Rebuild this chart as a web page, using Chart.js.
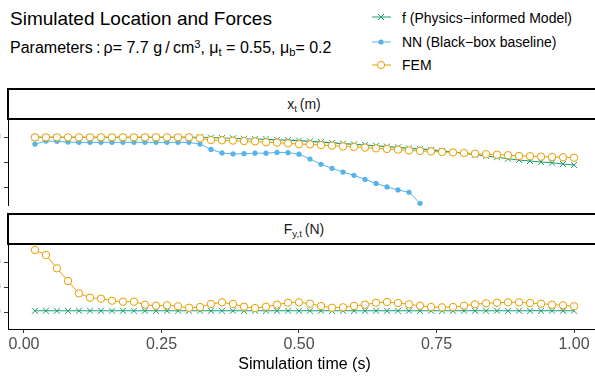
<!DOCTYPE html>
<html>
<head>
<meta charset="utf-8">
<script src="https://cdn.jsdelivr.net/npm/chart.js@4.4.1/dist/chart.umd.min.js"></script>
<style>
  html, body { margin: 0; padding: 0; width: 595px; height: 377px; overflow: hidden; background: #fff; }
  body { position: relative; font-family: "Liberation Sans", Arial, sans-serif; color: #000; }
  .txt { position: absolute; line-height: 1; white-space: nowrap; }
  .sup { position: relative; top: -0.45em; font-size: 0.7em; line-height: 0; }
  .sub { position: relative; top: 0.3em; font-size: 0.7em; line-height: 0; }
  #title { left: 10px; top: 9px; font-size: 19px; }
  #subtitle { left: 10px; top: 40px; font-size: 16px; }
  .legText { left: 402px; font-size: 14px; }
  .key { position: absolute; left: 370px; }
  .strip { position: absolute; left: 7px; width: 600px; height: 32px; box-sizing: border-box;
           border: 2px solid #000; background: #fff; z-index: 2; }
  .stripText { left: 0; width: 608px; text-align: center; font-size: 14px; color: #1a1a1a; z-index: 3; }
  .panel { position: absolute; left: 0; width: 601px; }
</style>
</head>
<body>

<div id="title" class="txt">Simulated Location and Forces</div>
<div id="subtitle" class="txt">Parameters&thinsp;:&thinsp;ρ= 7.7 g&thinsp;/&thinsp;cm<span class="sup">3</span>, μ<span class="sub">t</span> = 0.55, μ<span class="sub">b</span>= 0.2</div>

<svg class="key" style="top:11px" width="24" height="12">
  <line x1="2" y1="6" x2="21" y2="6" stroke="#1b9e77" stroke-width="1"/>
  <path d="M8 3 L14 9 M14 3 L8 9" stroke="#1b9e77" stroke-width="1"/>
</svg>
<div class="txt legText" style="top:10.5px">f (Physics−informed Model)</div>
<svg class="key" style="top:35.5px" width="24" height="12">
  <line x1="2" y1="6" x2="21" y2="6" stroke="#56B4E9" stroke-width="1"/>
  <circle cx="11" cy="6" r="2.6" fill="#56B4E9"/>
</svg>
<div class="txt legText" style="top:35px">NN (Black−box baseline)</div>
<svg class="key" style="top:59px" width="24" height="12">
  <line x1="2" y1="6" x2="21" y2="6" stroke="#E69F00" stroke-width="1"/>
  <circle cx="11" cy="6" r="3.6" fill="#fff" stroke="#E69F00" stroke-width="1"/>
</svg>
<div class="txt legText" style="top:58.2px">FEM</div>

<div class="strip" style="top:88px"></div>
<div class="txt stripText" style="top:97px">x<span class="sub">t</span>&thinsp;(m)</div>
<div class="strip" style="top:213px"></div>
<div class="txt stripText" style="top:222px">F<span class="sub">y,t</span>&thinsp;(N)</div>

<div class="panel" style="top:120px; height:86px"><canvas id="posChart" width="601" height="86"></canvas></div>
<div class="panel" style="top:245px; height:132px"><canvas id="forceChart" width="601" height="132"></canvas></div>

<script>
// Simulation time (s)
const times = [0.02, 0.04, 0.06, 0.08, 0.10, 0.12, 0.14, 0.16, 0.18, 0.20,
               0.22, 0.24, 0.26, 0.28, 0.30, 0.32, 0.34, 0.36, 0.38, 0.40,
               0.42, 0.44, 0.46, 0.48, 0.50, 0.52, 0.54, 0.56, 0.58, 0.60,
               0.62, 0.64, 0.66, 0.68, 0.70, 0.72, 0.74, 0.76, 0.78, 0.80,
               0.82, 0.84, 0.86, 0.88, 0.90, 0.92, 0.94, 0.96, 0.98, 1.00];

// x_t (m) panel
const posF = [0, 0, 0, 0, 0, 0, 0, 0, 0, 0,
              0, 0, 0, 0, 0, 0, -0.001, -0.003, -0.004, -0.006,
              -0.007, -0.008, -0.010, -0.011, -0.013, -0.016, -0.019, -0.022, -0.025, -0.028,
              -0.031, -0.034, -0.037, -0.040, -0.044, -0.046, -0.050, -0.054, -0.058, -0.063,
              -0.069, -0.074, -0.079, -0.085, -0.090, -0.094, -0.098, -0.101, -0.106, -0.110];
const posNN = [-0.027, -0.015, -0.016, -0.019, -0.020, -0.020, -0.020, -0.020, -0.020, -0.020,
               -0.020, -0.020, -0.020, -0.020, -0.020, -0.027, -0.048, -0.062, -0.066, -0.065,
               -0.063, -0.063, -0.060, -0.061, -0.067, -0.086, -0.107, -0.123, -0.138, -0.151,
               -0.167, -0.183, -0.197, -0.209, -0.218, -0.262];
const posFEM = [0, 0, 0, 0, 0, 0, 0, 0, 0, 0,
                0, 0, 0, 0, 0, -0.004, -0.011, -0.012, -0.013, -0.015,
                -0.016, -0.020, -0.021, -0.024, -0.027, -0.028, -0.031, -0.033, -0.036, -0.038,
                -0.041, -0.044, -0.046, -0.049, -0.052, -0.054, -0.056, -0.058, -0.060, -0.062,
                -0.065, -0.067, -0.069, -0.071, -0.074, -0.075, -0.077, -0.078, -0.079, -0.081];

// F_y,t (N) panel
const forceF = [3.8, 3.8, 3.8, 3.8, 3.8, 3.8, 3.8, 3.8, 3.8, 3.8,
                3.8, 3.8, 3.8, 3.8, 3.8, 3.8, 3.8, 3.8, 3.8, 3.8,
                3.8, 3.8, 3.8, 3.8, 3.8, 3.8, 3.8, 3.8, 3.8, 3.8,
                3.8, 3.8, 3.8, 3.8, 3.8, 3.8, 3.8, 3.8, 3.8, 3.8,
                3.8, 3.8, 3.8, 3.8, 3.8, 3.8, 3.8, 3.8, 3.8, 3.8];
const forceFEM = [124.4, 114.5, 88.1, 62.9, 38.4, 29.8, 27.8, 23.8, 21.8, 21.8,
                  15.9, 13.9, 14.7, 12.7, 9.9, 11.3, 17.3, 20.6, 17.3, 11.9,
                  9.3, 11.9, 15.9, 19.8, 20.6, 17.9, 13.3, 9.9, 10.7, 13.3,
                  15.9, 19.8, 21.2, 19.2, 16.7, 13.9, 11.3, 10.7, 11.3, 13.9,
                  16.7, 18.7, 19.8, 20.6, 20.6, 19.2, 17.9, 15.9, 14.7, 12.7];

// Axis ticks and limits
const xTickValues = [0, 0.25, 0.5, 0.75, 1];
const xTickLabels = ["0.00", "0.25", "0.50", "0.75", "1.00"];
const xMin = -0.029, xMax = 1.049;
const posTickValues = [0, -0.1, -0.2];
const posTickLabels = ["0.0", "−0.1", "−0.2"];
const posMin = -0.2726, posMax = 0.0687;
const forceTickValues = [0, 50, 100];
const forceTickLabels = ["0", "50", "100"];
const forceMin = -32.3, forceMax = 134.3;

const GREEN = "#1b9e77", BLUE = "#56B4E9", ORANGE = "#E69F00";
const FONT = "'Liberation Sans', Arial, sans-serif";

function toPoints(values) {
  return values.map((v, i) => ({ x: times[i], y: v }));
}

function fDataset(values) {
  return {
    label: "f (Physics−informed Model)", data: toPoints(values), order: 2,
    borderColor: GREEN, borderWidth: 1.1, pointStyle: "crossRot", pointRadius: 4.3,
    pointBorderColor: GREEN, pointBorderWidth: 1, fill: false, clip: false
  };
}
function nnDataset(values) {
  return {
    label: "NN (Black−box baseline)", data: toPoints(values), order: 1,
    borderColor: BLUE, borderWidth: 1, pointStyle: "circle", pointRadius: 2.6,
    pointBackgroundColor: BLUE, pointBorderWidth: 0, fill: false, clip: false
  };
}
function femDataset(values) {
  return {
    label: "FEM", data: toPoints(values), order: 0,
    borderColor: ORANGE, borderWidth: 1, pointStyle: "circle", pointRadius: 3.7,
    pointBackgroundColor: "#fff", pointBorderColor: ORANGE, pointBorderWidth: 1, fill: false, clip: false
  };
}

// tick labels sit left of the canvas edge and are clipped, as in the reference
function yScale(min, max, tickValues, tickLabels) {
  return {
    type: "linear", min: min, max: max,
    afterBuildTicks: s => { s.ticks = tickValues.map(v => ({ value: v })); },
    afterFit: s => { s.width = 8; s.paddingTop = 0; s.paddingBottom = 0; },
    border: { display: true, color: "#000", width: 1 },
    grid: { drawOnChartArea: false, drawTicks: true, tickLength: 4, color: "#333" },
    ticks: { callback: (v, i) => tickLabels[i], color: "#4d4d4d", padding: 3,
             font: { family: FONT, size: 16 } }
  };
}

function xScale(showAxis) {
  return {
    type: "linear", min: xMin, max: xMax, display: showAxis,
    afterBuildTicks: s => { s.ticks = xTickValues.map(v => ({ value: v })); },
    afterFit: s => { s.height = showAxis ? 48 : 0; },
    border: { display: true, color: "#000", width: 1 },
    grid: { drawOnChartArea: false, drawTicks: true, tickLength: 4, color: "#333" },
    ticks: { callback: (v, i) => xTickLabels[i], color: "#4d4d4d", padding: 2,
             autoSkip: false, maxRotation: 0, font: { family: FONT, size: 16 } },
    title: { display: true, text: "Simulation time (s)", color: "#000",
             padding: { top: 0, bottom: 3 }, font: { family: FONT, size: 16 } }
  };
}

const baseOptions = {
  responsive: false, animation: false, devicePixelRatio: 1,
  layout: { padding: 0, autoPadding: false },
  plugins: { legend: { display: false }, tooltip: { enabled: false } },
  elements: { line: { tension: 0 } }
};

new Chart(document.getElementById("posChart"), {
  type: "line",
  data: { datasets: [fDataset(posF), nnDataset(posNN), femDataset(posFEM)] },
  options: Object.assign({}, baseOptions, {
    scales: { x: xScale(false), y: yScale(posMin, posMax, posTickValues, posTickLabels) }
  })
});

new Chart(document.getElementById("forceChart"), {
  type: "line",
  data: { datasets: [fDataset(forceF), femDataset(forceFEM)] },
  options: Object.assign({}, baseOptions, {
    scales: { x: xScale(true), y: yScale(forceMin, forceMax, forceTickValues, forceTickLabels) }
  })
});
</script>
</body>
</html>
